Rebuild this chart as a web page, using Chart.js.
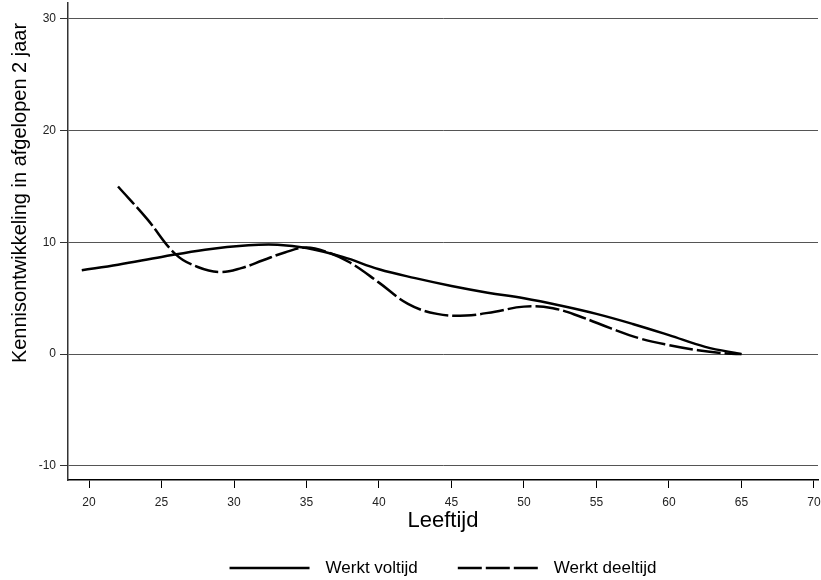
<!DOCTYPE html>
<html>
<head>
<meta charset="utf-8">
<script src="https://cdn.jsdelivr.net/npm/chart.js@4.4.0/dist/chart.umd.min.js"></script>
<style>
  html, body { margin: 0; padding: 0; background: #fff; }
  #wrap { width: 821px; height: 580px; }
</style>
</head>
<body>
<div id="wrap"><canvas id="kennisChart"></canvas></div>
<script>
// leeftijd en kennisontwikkeling
const leeftijdVoltijd = [19.5, 22, 25, 28, 31, 33, 35, 37.5, 40, 42.5, 45, 47.5, 50, 52.5, 55, 57.5, 60, 62.5, 65];
const werktVoltijd    = [7.5, 8.0, 8.7, 9.35, 9.75, 9.8, 9.5, 8.7, 7.6, 6.8, 6.1, 5.5, 5.0, 4.35, 3.6, 2.7, 1.7, 0.65, 0];

const leeftijdDeeltijd = [22, 24, 26, 27.5, 29, 30.5, 32, 33.5, 35, 36.5, 38, 40, 42, 44, 46, 48, 50, 52, 54, 56, 58, 60, 62, 64, 65];
const werktDeeltijd    = [15.0, 12.1, 8.9, 7.8, 7.35, 7.7, 8.4, 9.1, 9.55, 9.1, 8.2, 6.4, 4.5, 3.6, 3.45, 3.8, 4.25, 4.1, 3.3, 2.3, 1.4, 0.8, 0.35, 0.05, 0];

const xTicks = [20, 25, 30, 35, 40, 45, 50, 55, 60, 65, 70];
const yTicks = [-10, 0, 10, 20, 30];

const FONT = 'Arial, "Liberation Sans", sans-serif';
const toPoints = (xs, ys) => xs.map((x, i) => ({ x: x, y: ys[i] }));

// titel van de y-as iets boven het midden, zoals in het origineel
const yTitlePlugin = {
  id: 'yTitle',
  afterDraw(chart) {
    const ctx = chart.ctx;
    ctx.save();
    ctx.translate(20, 193);
    ctx.rotate(-Math.PI / 2);
    ctx.font = '20px ' + FONT;
    ctx.fillStyle = '#000';
    ctx.textAlign = 'center';
    ctx.textBaseline = 'middle';
    ctx.fillText('Kennisontwikkeling in afgelopen 2 jaar', 0, 0);
    ctx.restore();
  }
};

// legenda onderaan: lange lijnstukken met ruime tussenafstand
const legendPlugin = {
  id: 'lineLegend',
  afterDraw(chart) {
    const ctx = chart.ctx;
    const lineLen = 80, gapText = 16, gapItem = 40, y = 568;
    ctx.save();
    ctx.font = '17px ' + FONT;
    const items = chart.data.datasets.map(ds => ({
      ds: ds,
      w: lineLen + gapText + ctx.measureText(ds.label).width
    }));
    const total = items.reduce((s, it) => s + it.w, 0) + gapItem * (items.length - 1);
    let x = (chart.chartArea.left + chart.chartArea.right) / 2 - total / 2;
    items.forEach(it => {
      ctx.beginPath();
      ctx.setLineDash(it.ds.borderDash || []);
      ctx.lineWidth = it.ds.borderWidth;
      ctx.strokeStyle = it.ds.borderColor;
      ctx.moveTo(x, y);
      ctx.lineTo(x + lineLen, y);
      ctx.stroke();
      ctx.setLineDash([]);
      ctx.fillStyle = '#000';
      ctx.textAlign = 'left';
      ctx.textBaseline = 'middle';
      ctx.fillText(it.ds.label, x + lineLen + gapText, y);
      x += it.w + gapItem;
    });
    ctx.restore();
  }
};

new Chart(document.getElementById('kennisChart'), {
  type: 'line',
  data: {
    datasets: [
      {
        label: 'Werkt voltijd',
        data: toPoints(leeftijdVoltijd, werktVoltijd),
        borderColor: '#000',
        backgroundColor: '#000',
        borderWidth: 2.5,
        tension: 0.4,
        pointRadius: 0
      },
      {
        label: 'Werkt deeltijd',
        data: toPoints(leeftijdDeeltijd, werktDeeltijd),
        borderColor: '#000',
        backgroundColor: '#000',
        borderWidth: 2.5,
        borderDash: [24, 4],
        tension: 0.4,
        pointRadius: 0
      }
    ]
  },
  options: {
    responsive: true,
    maintainAspectRatio: false,
    animation: false,
    layout: { padding: { top: 3, right: 3, left: 0, bottom: 46 } },
    plugins: {
      legend: { display: false },
      tooltip: { enabled: false }
    },
    scales: {
      x: {
        type: 'linear',
        min: 18.55,
        max: 70.28,
        afterFit: s => { s.height = 54; s.paddingLeft = 0; s.paddingRight = 0; },
        afterBuildTicks: s => { s.ticks = xTicks.map(v => ({ value: v })); },
        grid: { drawOnChartArea: false, drawTicks: true, tickLength: 8, color: '#000' },
        border: { color: '#000', width: 1.5 },
        ticks: {
          padding: 7,
          color: '#222',
          font: { family: FONT, size: 12 }
        },
        title: {
          display: true,
          text: 'Leeftijd',
          color: '#000',
          padding: { top: 0, bottom: 0 },
          font: { family: FONT, size: 22 }
        }
      },
      y: {
        min: -11.27,
        max: 31.43,
        afterFit: s => { s.width = 68; s.paddingTop = 0; s.paddingBottom = 0; },
        afterBuildTicks: s => { s.ticks = yTicks.map(v => ({ value: v })); },
        grid: { color: '#555', lineWidth: 1, tickLength: 8, tickColor: '#333' },
        border: { color: '#333', width: 1.5 },
        ticks: {
          padding: 4,
          color: '#222',
          font: { family: FONT, size: 12 }
        }
      }
    }
  },
  plugins: [yTitlePlugin, legendPlugin]
});
</script>
</body>
</html>
